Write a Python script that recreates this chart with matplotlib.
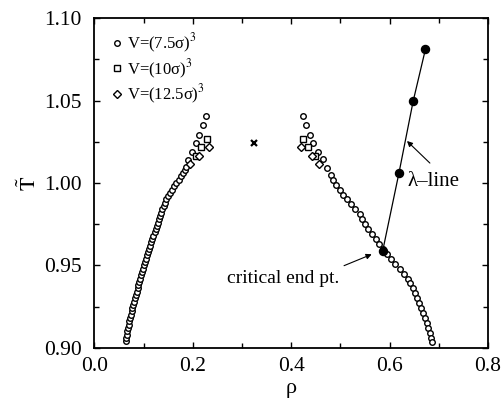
import matplotlib
matplotlib.use("Agg")
import matplotlib.pyplot as plt
from matplotlib.ticker import MultipleLocator

plt.rcParams['font.family'] = ['Liberation Serif', 'DejaVu Serif']
plt.rcParams['mathtext.fontset'] = 'stix'

# coexistence curve, V=(7.5 sigma)^3 -- left (vapour) branch
left_T = [0.904, 0.906, 0.908, 0.910, 0.912, 0.914, 0.916, 0.918, 0.920, 0.922,
          0.924, 0.926, 0.928, 0.930, 0.932, 0.934, 0.936, 0.938, 0.940, 0.942,
          0.944, 0.946, 0.948, 0.950, 0.952, 0.954, 0.956, 0.958, 0.960, 0.962,
          0.964, 0.966, 0.968, 0.970, 0.972, 0.974, 0.976, 0.978, 0.980, 0.982,
          0.984, 0.986, 0.988, 0.990, 0.992, 0.994, 0.996, 0.998, 1.000, 1.002,
          1.004, 1.006, 1.008, 1.010, 1.014, 1.019, 1.024, 1.029, 1.035, 1.0405]
left_rho = [0.064, 0.065, 0.066, 0.067, 0.0685, 0.070, 0.071, 0.0725, 0.074, 0.0755,
            0.077, 0.079, 0.0805, 0.082, 0.084, 0.086, 0.088, 0.0895, 0.091, 0.093,
            0.095, 0.097, 0.099, 0.101, 0.103, 0.105, 0.107, 0.109, 0.111, 0.113,
            0.1155, 0.118, 0.120, 0.1225, 0.125, 0.127, 0.1285, 0.131, 0.133, 0.1355,
            0.138, 0.141, 0.1435, 0.146, 0.1495, 0.153, 0.1575, 0.162, 0.1665, 0.171,
            0.1755, 0.180, 0.1835, 0.187, 0.191, 0.199, 0.206, 0.213, 0.220, 0.2275]

# right (liquid) branch
right_T = [1.0405, 1.035, 1.0293, 1.024, 1.019, 1.0144, 1.0089, 1.005, 1.002, 0.999,
           0.996, 0.993, 0.990, 0.987, 0.984, 0.981, 0.978, 0.975, 0.972, 0.969,
           0.966, 0.963, 0.960, 0.957, 0.954, 0.951, 0.948, 0.945, 0.942, 0.939,
           0.936, 0.933, 0.930, 0.927, 0.924, 0.921, 0.918, 0.915, 0.912, 0.909,
           0.906, 0.9035]
right_rho = [0.4247, 0.430, 0.438, 0.445, 0.455, 0.464, 0.4735, 0.480, 0.486, 0.492,
             0.499, 0.506, 0.514, 0.522, 0.530, 0.539, 0.545, 0.551, 0.557, 0.565,
             0.572, 0.579, 0.586, 0.594, 0.603, 0.612, 0.621, 0.630, 0.637, 0.642,
             0.647, 0.651, 0.655, 0.659, 0.664, 0.668, 0.672, 0.676, 0.679, 0.682,
             0.684, 0.686]

# V=(10 sigma)^3
sq_T = [1.0267, 1.0216, 1.0163, 1.0267, 1.0216, 1.0163]
sq_rho = [0.229, 0.216, 0.207, 0.4235, 0.4337, 0.4485]

# V=(12.5 sigma)^3
di_T = [1.0216, 1.0163, 1.0115, 1.0216, 1.0163, 1.0115]
di_rho = [0.233, 0.213, 0.194, 0.420, 0.442, 0.457]

# lambda line, first point is the critical end point
lam_rho = [0.586, 0.619, 0.648, 0.673]
lam_T = [0.9587, 1.0059, 1.0497, 1.0813]

# critical point estimate
crit_rho = [0.325]
crit_T = [1.024]

fig = plt.figure(figsize=(5.02, 4.05), dpi=100)
ax = fig.add_axes([0.188, 0.1415, 0.784, 0.8133])

ax.plot(left_rho + right_rho, left_T + right_T, 'o', ms=4.0, mfc='white',
        mec='black', mew=1.0, ls='none', label='V=(7.5σ)$^3$')
ax.plot(sq_rho, sq_T, 's', ms=4.0, mfc='white', mec='black', mew=1.0,
        ls='none', label='V=(10σ)$^3$')
ax.plot(di_rho, di_T, 'D', ms=3.6, mfc='white', mec='black', mew=1.0,
        ls='none', label='V=(12.5σ)$^3$')
ax.plot(lam_rho, lam_T, '-', color='black', lw=0.9, zorder=3)
ax.plot(lam_rho, lam_T, 'o', ms=5.8, color='black', ls='none', zorder=4)
ax.plot(crit_rho, crit_T, 'x', ms=4.2, mew=1.6, color='black', ls='none')

ax.annotate('', xy=(0.6354, 1.0255), xytext=(0.682, 1.0121),
            arrowprops=dict(arrowstyle='-|>', lw=0.8, color='black',
                            mutation_scale=8, shrinkA=0, shrinkB=0))
ax.text(0.636, 1.0010, 'λ\u2013line', fontsize=15, ha='left', va='center')

ax.annotate('', xy=(0.5637, 0.9567), xytext=(0.5075, 0.9498),
            arrowprops=dict(arrowstyle='-|>', lw=0.8, color='black',
                            mutation_scale=8, shrinkA=0, shrinkB=0))
ax.text(0.497, 0.9423, 'critical end pt.', fontsize=14, ha='right', va='center')

ax.set_xlim(0.0, 0.8)
ax.set_ylim(0.90, 1.10)
ax.xaxis.set_major_locator(MultipleLocator(0.2))
ax.xaxis.set_minor_locator(MultipleLocator(0.1))
ax.yaxis.set_major_locator(MultipleLocator(0.05))
ax.yaxis.set_minor_locator(MultipleLocator(0.025))
ax.xaxis.set_major_formatter(plt.FuncFormatter(lambda v, p: f'{v:.1f}'))
ax.yaxis.set_major_formatter(plt.FuncFormatter(lambda v, p: f'{v:.2f}'))
ax.tick_params(which='both', direction='in', top=True, right=True,
               width=1.0, labelsize=15.5)
ax.tick_params(axis='x', which='major', pad=7)
ax.tick_params(axis='y', which='major', pad=9)
ax.tick_params(which='major', length=4)
ax.tick_params(which='minor', length=3.5)
for s in ax.spines.values():
    s.set_linewidth(1.3)

ax.set_xlabel('ρ', fontsize=16, labelpad=2)
ax.set_ylabel(r'$\tilde{\mathrm{T}}$', fontsize=16, labelpad=2)

ax.legend(loc='upper left', bbox_to_anchor=(0.02, 0.99), frameon=False,
          fontsize=12, handlelength=0.6, handletextpad=0.3, labelspacing=0.15,
          borderaxespad=0.2)

fig.savefig('out.png', dpi=100)
